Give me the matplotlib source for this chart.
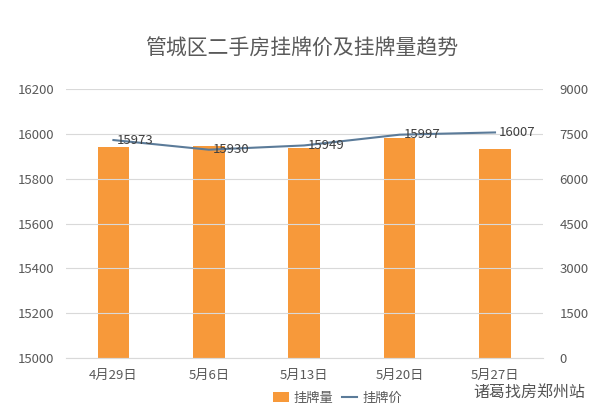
import matplotlib.pyplot as plt
import numpy as np

plt.rcParams['font.family'] = ['Noto Sans CJK SC', 'DejaVu Sans']

dates = ["4月29日", "5月6日", "5月13日", "5月20日", "5月27日"]
price = [15973, 15930, 15949, 15997, 16007]
volume = [7070, 7090, 7035, 7350, 6995]

fig = plt.figure(figsize=(6.03, 4.2), dpi=100)
ax = fig.add_axes([0.109, 0.1476, 0.791, 0.640])
ax2 = ax.twinx()

x = np.arange(len(dates))
text_c = "#595959"

# bars on the right axis, line on the left one
ax2.bar(x, volume, width=0.33, color="#F7993A", label="挂牌量", zorder=2)
ax2.set_ylim(0, 9000)
ax2.set_yticks(range(0, 9001, 1500))

ax.set_ylim(15000, 16200)
ax.set_yticks(range(15000, 16201, 200))
ax.set_xlim(-0.5, len(dates) - 0.5)
ax.set_xticks(x)
ax.set_xticklabels(dates)
ax.grid(axis="y", color="#d9d9d9", linewidth=0.8)
ax.set_axisbelow(True)

ax.set_zorder(ax2.get_zorder() + 1)
ax.patch.set_visible(False)
line, = ax.plot(x, price, color="#5B7B99", linewidth=1.5, label="挂牌价")
for xi, p in zip(x, price):
    ax.text(xi + 0.04, p, str(p), fontsize=9.5, color="#404040",
            ha="left", va="center")

for a in (ax, ax2):
    for s in a.spines.values():
        s.set_visible(False)
    a.tick_params(length=0, labelsize=9.5, colors=text_c)
ax.tick_params(axis="y", pad=8)
ax2.tick_params(axis="y", pad=12)
ax.tick_params(axis="x", pad=8)
ax.spines["bottom"].set_visible(True)
ax.spines["bottom"].set_color("#d9d9d9")

fig.text(0.5, 0.885, "管城区二手房挂牌价及挂牌量趋势", ha="center", va="center",
         fontsize=15, color=text_c, fontweight="light")

handles = [ax2.patches[0], line]
fig.legend(handles, ["挂牌量", "挂牌价"], loc="center", bbox_to_anchor=(0.56, 0.052),
           ncol=2, frameon=False, fontsize=9.5, labelcolor=text_c,
           handlelength=1.2, handletextpad=0.4, columnspacing=0.6)

fig.text(0.97, 0.065, "诸葛找房郑州站", ha="right", va="center",
         fontsize=11.5, color="#555555")

fig.savefig("out.png", dpi=100)
